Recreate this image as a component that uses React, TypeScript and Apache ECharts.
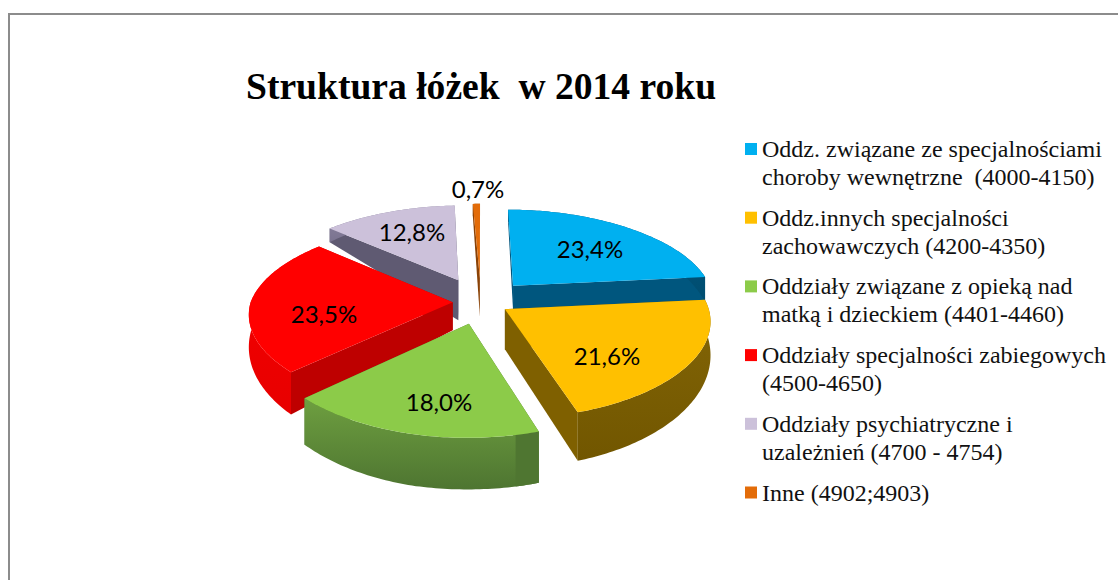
import React, { useEffect, useRef } from "react";
import * as echarts from "echarts";

const titleText = "Struktura łóżek  w 2014 roku";
const categories = [
  "Oddz. związane ze specjalnościami\nchoroby wewnętrzne  (4000-4150)",
  "Oddz.innych specjalności\nzachowawczych (4200-4350)",
  "Oddziały związane z opieką nad\nmatką i dzieckiem (4401-4460)",
  "Oddziały specjalności zabiegowych\n(4500-4650)",
  "Oddziały psychiatryczne i\nuzależnień (4700 - 4754)",
  "Inne (4902;4903)\n ",
];
const shares = [23.4, 21.6, 18.0, 23.5, 12.8, 0.7];
const shareLabels = ["23,4%", "21,6%", "18,0%", "23,5%", "12,8%", "0,7%"];

const topColors = ["#00B0F0", "#FFC000", "#8CCB49", "#FF0000", "#CCC1DA", "#E36C09"];
const radialColors = ["#00567E", "#7F6000", "#4F7631", "#BE0000", "#5F5A72", "#8A4206"];
const arcTopColors = ["#00567E", "#846606", "#6E9F40", "#F40000", "#8E86A0", "#A5540C"];
const arcBottomColors = ["#004D70", "#715600", "#4E7531", "#E80000", "#7A7390", "#8A4206"];
const explode = [0.243, 0.14, 0.235, 0.14, 0.27, 0.27];
const apexDepths = [24, 40, 30, 28, 40, 38];
const endShadeSteps = [0, 0, 6, 0, 0, 0];
const labelOffsets = [[109, -54], [126, 53], [-42, 99], [-157, 11], [-69, -71], [-3, -114]];
const drawOrder = [5, 4, 0, 3, 1, 2];

const CX = 481;
const CY = 302;
const RX = 202;
const RY = 93;

function project(u: number, v: number, depth: number): number[] {
  const px = v < 0 ? 1 + 0.15 * v : 1 + 0.12 * v;
  const py = v < 0 ? 1 / (1 - 0.16 * v) : 1 / (1 - 0.13 * v);
  return [CX + u * RX * px, CY + v * RY * py + depth];
}
function rimDepth(v: number): number {
  return 30 + 18 * Math.max(-1, Math.min(1.2, v));
}

function sliceAngles(index: number): number[] {
  const total = shares.reduce((a, b) => a + b, 0);
  const before = shares.slice(0, index).reduce((a, b) => a + b, 0);
  return [(before / total) * 2 * Math.PI, ((before + shares[index]) / total) * 2 * Math.PI];
}

function renderSlice(index: number) {
  const [a0, a1] = sliceAngles(index);
  const mid = (a0 + a1) / 2;
  const ou = explode[index] * Math.sin(mid);
  const ov = -explode[index] * Math.cos(mid);
  const steps = Math.max(2, Math.ceil(((a1 - a0) * 180) / Math.PI));
  const rim: number[][] = [];
  for (let i = 0; i <= steps; i++) {
    const a = a0 + ((a1 - a0) * i) / steps;
    rim.push([ou + Math.sin(a), ov - Math.cos(a)]);
  }
  const top = (p: number[]) => project(p[0], p[1], 0);
  const low = (p: number[]) => project(p[0], p[1], rimDepth(p[1]));
  const apexTop = project(ou, ov, 0);
  const apexLow = project(ou, ov, apexDepths[index]);
  const wall = (q: number[]) => [apexTop, top(q), low(q), apexLow];
  const band = (part: number[][]) => [...part.map(top), ...part.slice().reverse().map(low)];
  const children: any[] = [
    { type: "polygon", shape: { points: wall(rim[0]) }, style: { fill: radialColors[index] } },
    { type: "polygon", shape: { points: wall(rim[steps]) }, style: { fill: radialColors[index] } },
    {
      type: "polygon",
      shape: { points: band(rim) },
      style: {
        fill: {
          type: "linear",
          x: 0,
          y: 0,
          x2: 0,
          y2: 1,
          colorStops: [
            { offset: 0, color: arcTopColors[index] },
            { offset: 1, color: arcBottomColors[index] },
          ],
        },
      },
    },
  ];
  if (endShadeSteps[index] > 0) {
    children.push({
      type: "polygon",
      shape: { points: band(rim.slice(0, endShadeSteps[index] + 1)) },
      style: { fill: radialColors[index] },
    });
  }
  children.push({ type: "polygon", shape: { points: [apexTop, ...rim.map(top)] }, style: { fill: topColors[index] } });
  return { type: "group", children };
}

function buildOption() {
  const seriesList: any[] = drawOrder.map((index, z) => ({
    type: "custom",
    name: categories[index],
    coordinateSystem: "none",
    z: 2 + z,
    silent: true,
    itemStyle: { color: topColors[index] },
    data: [shares[index]],
    renderItem: () => renderSlice(index),
  }));
  const labels = shareLabels.map((text, i) => ({
    type: "text",
    x: CX + labelOffsets[i][0],
    y: CY + labelOffsets[i][1],
    z: 50,
    style: {
      text,
      fill: "#000",
      font: '24px Lato, "Open Sans", sans-serif',
      align: "center",
      verticalAlign: "middle",
    },
  }));
  return {
    animation: false,
    backgroundColor: "#fff",
    title: {
      text: titleText,
      left: 246,
      top: 67,
      padding: 0,
      textStyle: {
        fontFamily: '"Liberation Serif", serif',
        fontWeight: "bold",
        fontSize: 37.6,
        color: "#000",
      },
    },
    legend: {
      orient: "vertical",
      left: 745,
      top: 107,
      height: 470,
      width: 370,
      padding: 0,
      itemGap: -15.3,
      itemWidth: 12,
      itemHeight: 12,
      icon: "rect",
      selectedMode: false,
      data: categories,
      formatter: (name: string) => "\n" + name,
      textStyle: {
        fontFamily: '"Liberation Serif", serif',
        fontSize: 24,
        lineHeight: 28,
        color: "#111",
      },
    },
    graphic: [
      {
        type: "polyline",
        silent: true,
        shape: { points: [[9, 580], [9, 14], [1118, 14]] },
        style: { stroke: "#8C8C8C", lineWidth: 2, fill: "none" },
      },
      ...labels,
    ],
    series: seriesList,
  };
}

export default function App() {
  const ref = useRef<HTMLDivElement>(null);
  useEffect(() => {
    document.body.style.margin = "0";
    const chart = echarts.init(ref.current!, undefined, { renderer: "svg" });
    chart.setOption(buildOption() as any);
    return () => chart.dispose();
  }, []);
  return <div ref={ref} style={{ width: 1118, height: 580 }} />;
}
